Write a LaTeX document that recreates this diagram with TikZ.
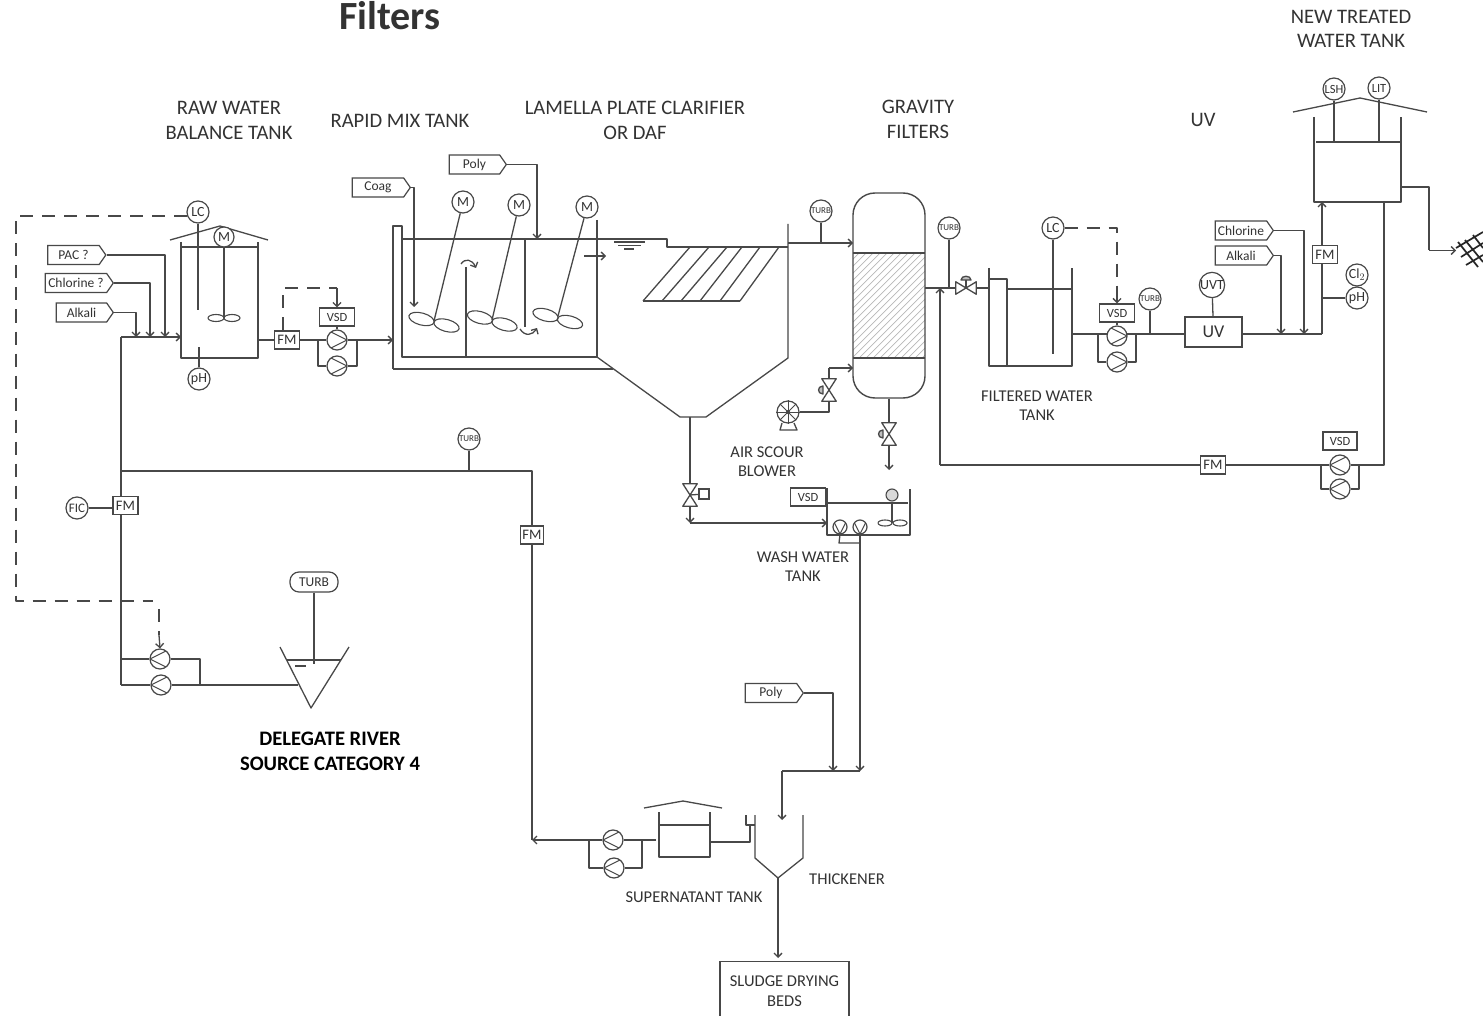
\documentclass[tikz,border=0pt]{standalone}
\usepackage{fontspec}
\setmainfont{Carlito}
\usetikzlibrary{arrows.meta,shapes.symbols,shapes.misc,shapes.geometric}
\definecolor{linec}{HTML}{484848}
\definecolor{txtc}{HTML}{333333}
\tikzset{
 pipe/.style={draw=linec,line width=1.3pt,line join=round},
 ctrl/.style={pipe,dash pattern=on 13pt off 9pt},
 lab/.style={font=\fontsize{20.6}{24.5}\selectfont,align=center,text=txtc,inner sep=0pt},
 labs/.style={font=\fontsize{16.5}{19.5}\selectfont,align=center,text=txtc,inner sep=0pt},
 labb/.style={font=\fontsize{20.6}{25}\selectfont\bfseries,align=center,text=black,inner sep=0pt},
 inst/.style={circle,draw=linec,line width=1.2pt,fill=white,minimum size=22pt,inner sep=0pt,text=txtc,font=\fontsize{14}{14}\selectfont},
 instt/.style={inst,font=\fontsize{9}{9}\selectfont},
 fmbox/.style={rectangle,draw=linec,line width=1.3pt,fill=white,minimum width=25pt,minimum height=18pt,inner sep=0pt,text=txtc,font=\fontsize{14.5}{15}\selectfont},
 vsdbox/.style={rectangle,draw=linec,line width=1.3pt,fill=white,minimum width=35pt,minimum height=18pt,inner sep=0pt,text=txtc,font=\fontsize{12.5}{13}\selectfont},
 tag/.style={shape=signal,signal to=east,signal from=nowhere,signal pointer angle=110,draw=linec,line width=1.2pt,fill=white,minimum width=#1,minimum height=19pt,inner sep=0pt,text=txtc,font=\fontsize{13.5}{14}\selectfont},
 pumpbase/.style={circle,draw=linec,line width=1.2pt,fill=white,minimum size=20pt,inner sep=0pt},
 pumpR/.style={pumpbase,path picture={\draw[pipe,line width=1pt] (path picture bounding box.north west)--(path picture bounding box.east)--(path picture bounding box.south west);}},
 pumpL/.style={pumpbase,path picture={\draw[pipe,line width=1pt] (path picture bounding box.north east)--(path picture bounding box.west)--(path picture bounding box.south east);}},
 pumpD/.style={pumpbase,minimum size=14pt,path picture={\draw[pipe,line width=1pt] (path picture bounding box.north west)--(path picture bounding box.south)--(path picture bounding box.north east);}},
 vvbox/.style={rectangle,minimum width=14pt,minimum height=22pt,inner sep=0pt},
 hvbox/.style={rectangle,minimum width=20pt,minimum height=12pt,inner sep=0pt},
}
\newcommand{\vvalve}[2]{\node[vvbox] (#1) at (#2) {};
 \draw[pipe] (#1.north west)--(#1.north east)--(#1.south west)--(#1.south east)--cycle;}
\newcommand{\impel}[3]{\draw[pipe,line width=1.1pt,rotate around={#3:(#1,#2)}] (#1,#2) ellipse [x radius=13,y radius=6];}
\begin{document}
\begin{tikzpicture}[x=1pt,y=-1pt,>={Straight Barb[length=4pt,width=8pt]}]
\useasboundingbox (0,0) rectangle (1483,1016);
\fill[white] (0,0) rectangle (1483,1016);
\clip (0,0) rectangle (1483,1016);

% ---- titles and labels
\node[inner sep=0pt,font=\fontsize{40}{42}\selectfont\bfseries,text=txtc] (tFilters) at (390,16) {Filters};
\node[lab] (tNew) at (1351,29) {NEW TREATED\\WATER TANK};
\node[lab] (tRaw) at (229,120.5) {RAW WATER\\BALANCE TANK};
\node[lab] (tRapid) at (400,120.5) {RAPID MIX TANK};
\node[lab] (tLam) at (635,120.5) {LAMELLA PLATE CLARIFIER\\OR DAF};
\node[lab] (tGrav) at (918,119.5) {GRAVITY\\FILTERS};
\node[lab] (tUV) at (1203,119.5) {UV};
\node[labb] (tRiver) at (330,751) {DELEGATE RIVER\\SOURCE CATEGORY 4};
\node[labs,font=\fontsize{16.5}{18.5}\selectfont] (tAir) at (767,461.5) {AIR SCOUR\\BLOWER};
\node[labs] (tFilt) at (1037,405.5) {FILTERED WATER\\TANK};
\node[labs] (tWash) at (803,566.5) {WASH WATER\\TANK};
\node[labs] (tSup) at (694,897.5) {SUPERNATANT TANK};
\node[labs] (tThick) at (847,879.5) {THICKENER};

% ---- raw water balance tank
\draw[pipe] (181,242)--(181,358)--(258,358)--(258,242);
\draw[pipe] (181,247)--(258,247);
\draw[pipe] (170,240)--(220,226)--(268,240);
\node[inst] (lcA) at (198,212) {LC};
\node[inst,minimum size=20pt] (mA) at (224,237) {M};
\node[inst] (phA) at (199,379) {pH};
\draw[pipe] (lcA)--(198,310);
\draw[pipe] (mA)--(224,318);
\draw[pipe,line width=1.1pt] (216,318) ellipse [x radius=8,y radius=3.5];
\draw[pipe,line width=1.1pt] (232,318) ellipse [x radius=8,y radius=3.5];
\draw[pipe] (phA)--(199,347);

% ---- chemical dosing on raw water
\coordinate (m0) at (121,337);
\coordinate (m1) at (121,471);
\coordinate (m2) at (121,659);
\coordinate (m3) at (121,685);
\coordinate (rawIn) at (181,337);
\draw[pipe] (m0)--(m3);
\draw[pipe,->] (m0)--(rawIn);
\node[tag=58pt] (pac) at (73.5,255) {PAC ?};
\node[tag=68pt] (chlA) at (76,283) {Chlorine ?};
\node[tag=57pt] (alkA) at (81.5,312.5) {Alkali};
\coordinate (dPac) at (165,337);
\coordinate (dChl) at (150,337);
\coordinate (dAlk) at (136,337);
\draw[pipe,->] (pac.east)-|(dPac);
\draw[pipe,->] (chlA.east)-|(dChl);
\draw[pipe,->] (alkA.east)-|(dAlk);

% ---- raw pumps
\node[fmbox] (fmB) at (287,340) {FM};
\node[pumpR] (pA) at (337,340) {};
\node[pumpR] (pB) at (337,366) {};
\node[vsdbox] (vsdA) at (337,317) {VSD};
\coordinate (rawOut) at (258,340);
\coordinate (rmIn) at (393,340);
\coordinate (byA) at (318,340);
\coordinate (byB) at (357,340);
\draw[pipe] (rawOut)--(fmB)--(pA);
\draw[pipe,->] (pA)--(rmIn);
\draw[pipe] (byA)|-(pB);
\draw[pipe] (pB)-|(byB);
\draw[pipe] (vsdA)--(pA);
\coordinate (dA) at (283,330);
\coordinate (dB) at (283,288);
\coordinate (dC) at (337,288);
\draw[ctrl] (dA)--(dB)--(dC);
\draw[pipe,->] (dC)--(vsdA.north);

% ---- rapid mix tank and clarifier
\draw[pipe] (393,369)--(393,226)--(402,226)--(402,357)--(597,357);
\draw[pipe,line width=1.7pt] (597,220)--(597,357);
\draw[pipe] (393,369)--(613,369);
\draw[pipe] (402,239)--(667,239)--(667,247)--(788,247);
\draw[pipe] (466,267)--(466,357);
\draw[pipe] (525,239)--(525,327);
\draw[pipe] (597,357)--(680,417)--(706,417)--(788,358)--(788,224);
\draw[pipe] (614,242)--(645,242);
\draw[pipe] (618,245.5)--(641,245.5);
\draw[pipe] (624,249)--(634,249);
\draw[pipe,->] (584,256)--(606,256);
\draw[pipe,->] (461,264) .. controls (465,258) and (472,259) .. (476,268);
\draw[pipe,->] (520,329) .. controls (525,337) and (533,335) .. (537,328);
\foreach \a/\b in {643/690,662/709,681/727,700/742,720/760,740/779}{\draw[pipe] (\a,301)--(\b,247);}
\draw[pipe] (643,301)--(740,301);
\node[inst] (mB) at (463,202) {M};
\node[inst] (mC) at (519,205) {M};
\node[inst] (mD) at (587,207) {M};
\draw[pipe] (mB)--(434,321);
\draw[pipe] (mC)--(492,320);
\draw[pipe] (mD)--(558,316);
\impel{421.5}{319}{-15}
\impel{446.5}{325.5}{-15}
\impel{480}{317.5}{-15}
\impel{504.5}{324.5}{-15}
\impel{545.5}{315}{-15}
\impel{570}{322}{-15}
\node[tag=58pt] (coag) at (378,187.5) {Coag};
\node[tag=57pt] (polyA) at (474.5,164.5) {Poly};
\coordinate (coagIn) at (414,307);
\coordinate (polyIn) at (537,239);
\draw[pipe,->] (coag.east)-|(coagIn);
\draw[pipe,->] (polyA.east)-|(polyIn);

% ---- gravity filter
\begin{scope}
\clip (853,253) rectangle (925,358);
\foreach \i in {740,747,...,930}{\draw[draw=black!28,line width=.7pt] (\i,358)--++(105,-105);}
\end{scope}
\node[rectangle,rounded corners=22pt,draw=linec,line width=1.4pt,minimum width=72pt,minimum height=205pt,inner sep=0pt] (filt) at (889,295.5) {};
\draw[pipe] (853,253)--(925,253);
\draw[pipe] (853,358)--(925,358);
\node[instt] (turbA) at (821,211) {TURB};
\coordinate (cOut) at (788,243);
\coordinate (fIn) at (853,243);
\coordinate (turbAj) at (821,243);
\draw[pipe,->] (cOut)--(fIn);
\draw[pipe] (turbA)--(turbAj);

% air scour
\node[circle,draw=linec,line width=1.2pt,fill=white,minimum size=22pt,inner sep=0pt] (blower) at (788,412) {};
\foreach \an in {0,45,...,315}{\draw[pipe,line width=.9pt] (blower.center)--(blower.\an);}
\fill[linec] (blower.center) circle (2pt);
\draw[pipe] (782,423)--(780,430)--(797,430)--(794,423);
\vvalve{vAir}{829,390}
\draw[pipe,fill=black!25] (823,386) .. controls (817,386) and (817,394) .. (823,394) -- cycle;
\coordinate (airA) at (829,412);
\coordinate (airB) at (829,368);
\coordinate (airC) at (853,368);
\draw[pipe] (blower)--(airA)--(vAir.south);
\draw[pipe] (vAir.north)--(airB);
\draw[pipe,->] (airB)--(airC);
% filter drain
\vvalve{vDrain}{889,434}
\draw[pipe,fill=black!25] (883,430) .. controls (877,430) and (877,438) .. (883,438) -- cycle;
\coordinate (drainEnd) at (889,470);
\draw[pipe] (filt.south)--(vDrain.north);
\draw[pipe,->] (vDrain.south)--(drainEnd);

% filter outlet
\node[hvbox] (vOut) at (966,288) {};
\draw[pipe] (vOut.north west)--(vOut.south west)--(vOut.north east)--(vOut.south east)--cycle;
\draw[pipe] (966,288)--(966,280);
\draw[pipe,fill=black!25] (961,280) .. controls (961,275) and (971,275) .. (971,280) -- cycle;
\coordinate (fOut) at (925,288);
\coordinate (turbBj) at (949,288);
\coordinate (ftIn) at (989,288);
\draw[pipe] (fOut)--(vOut.west);
\draw[pipe] (vOut.east)--(ftIn);
\node[instt] (turbB) at (949,228) {TURB};
\draw[pipe] (turbB)--(turbBj);

% ---- filtered water tank
\draw[pipe] (989,268)--(989,366)--(1072,366)--(1072,268);
\draw[pipe] (989,279)--(1007,279)--(1007,366);
\draw[pipe] (1007,289)--(1072,289);
\node[inst] (lcB) at (1053,228) {LC};
\draw[pipe] (lcB)--(1053,354);
\node[vsdbox] (vsdB) at (1117,313) {VSD};
\coordinate (ftOut) at (1072,334);
\coordinate (byC) at (1098,334);
\coordinate (byD) at (1136,334);
\coordinate (turbCj) at (1150,334);
\coordinate (uvIn) at (1185,334);
\coordinate (uvOut) at (1242,334);
\coordinate (dD) at (1117,228);
\coordinate (dE) at (1117,295);
\draw[pipe] (ftOut)--(uvIn);
\node[pumpR] (pC) at (1117,336) {};
\node[pumpR] (pD) at (1117,362) {};
\node[instt] (turbC) at (1150,299) {TURB};
\node[rectangle,draw=linec,line width=1.3pt,fill=white,minimum width=57pt,minimum height=30pt,inner sep=0pt,text=txtc,font=\fontsize{18}{19}\selectfont] (uv) at (1213.5,332) {UV};
\node[inst] (uvt) at (1212,285) {UVT};
\draw[pipe] (byC)|-(pD);
\draw[pipe] (pD)-|(byD);
\draw[pipe] (vsdB)--(pC);
\draw[pipe] (turbC)--(turbCj);
\draw[pipe] (uvt)--(uv);
\draw[ctrl] (lcB)--(dD)--(dE);
\draw[pipe,->] (dE)--(vsdB.north);

% ---- treated water tank
\draw[pipe] (1314,117)--(1314,202)--(1401,202)--(1401,117);
\draw[pipe] (1316,142)--(1400,142);
\draw[pipe] (1293,112)--(1360,98)--(1427,112);
\node[inst,font=\fontsize{12.5}{13}\selectfont] (lsh) at (1334,89) {LSH};
\node[inst,font=\fontsize{12.5}{13}\selectfont] (lit) at (1379,88) {LIT};
\coordinate (lshj) at (1334,142);
\coordinate (litj) at (1379,142);
\draw[pipe] (lsh)--(lshj);
\draw[pipe] (lit)--(litj);
\coordinate (up0) at (1322,334);
\coordinate (up1) at (1322,202);
\coordinate (phj) at (1322,298);
\draw[pipe] (uvOut)--(up0);
\draw[pipe,->] (up0)--(up1);
\node[fmbox] (fmC) at (1325,254.5) {FM};
\node[inst] (cl) at (1357,275) {Cl$_2$};
\node[inst] (phB) at (1357,298) {pH};
\draw[pipe] (phj)--(phB);
\node[tag=58pt] (chlB) at (1241,230.5) {Chlorine};
\node[tag=58pt] (alkB) at (1241,255.5) {Alkali};
\coordinate (dChlB) at (1304,334);
\coordinate (dAlkB) at (1281,334);
\draw[pipe,->] (chlB.east)-|(dChlB);
\draw[pipe,->] (alkB.east)-|(dAlkB);
% distribution
\coordinate (ttA) at (1400,187);
\coordinate (ttB) at (1429,187);
\coordinate (ttC) at (1429,250.5);
\coordinate (ttD) at (1456,250.5);
\draw[pipe] (ttA)--(ttB)--(ttC);
\draw[pipe,->] (ttC)--(ttD);
\draw[pipe,draw=black!85,line width=1.7pt] (1456,248)--(1483,232) (1461,257)--(1483,243) (1466,265)--(1483,255)
 (1458,242)--(1478,267) (1465,240)--(1483,262) (1473,235)--(1483,248);

% ---- backwash return
\coordinate (rtA) at (1384,202);
\coordinate (rtB) at (1384,465);
\coordinate (rtC) at (940,465);
\coordinate (rtD) at (940,288);
\coordinate (byE) at (1321,465);
\coordinate (byF) at (1359,465);
\node[fmbox] (fmD) at (1213,465) {FM};
\node[pumpL] (pE) at (1340,465) {};
\node[pumpL] (pF) at (1340,489) {};
\node[vsdbox,minimum width=34pt] (vsdC) at (1340,441) {VSD};
\draw[pipe] (rtA)--(rtB)--(pE)--(fmD)--(rtC);
\draw[pipe,->] (rtC)--(rtD);
\draw[pipe] (byF)|-(pF);
\draw[pipe] (pF)-|(byE);

% ---- sludge from clarifier and wash water tank
\coordinate (hop) at (690,417);
\vvalve{vHop}{690,495}
\node[rectangle,draw=linec,line width=1.2pt,minimum size=10pt,inner sep=0pt] (act) at (704,494) {};
\draw[pipe] (690,495)--(act);
\coordinate (hopB) at (690,523);
\coordinate (wtIn) at (827,523);
\draw[pipe] (hop)--(vHop.north);
\draw[pipe,->] (vHop.south)--(hopB);
\draw[pipe,->] (hopB)--(wtIn);
\draw[pipe] (827,488)--(827,535)--(910,535)--(910,489);
\draw[pipe] (827,503)--(908,503);
\node[vsdbox] (vsdD) at (808,497) {VSD};
\node[circle,draw=linec,line width=1.1pt,fill=black!15,minimum size=12pt,inner sep=0pt] (mE) at (892,495) {};
\draw[pipe] (mE)--(892,523);
\draw[pipe,line width=1.1pt] (885,523) ellipse [x radius=7,y radius=3];
\draw[pipe,line width=1.1pt] (900,523) ellipse [x radius=7,y radius=3];
\coordinate (wA) at (839,543);
\coordinate (wB) at (860,543);
\coordinate (wC) at (860,771);
\coordinate (wD) at (782,771);
\coordinate (wE) at (782,820);
\node[pumpD] (pG) at (840,527) {};
\node[pumpD] (pH) at (860,527) {};
\draw[pipe] (pG.south)--(wA)--(wB);
\draw[pipe,->] (pH.south)--(wC);
\draw[pipe] (wC)--(wD);
\draw[pipe,->] (wD)--(wE);
\node[tag=58pt] (polyB) at (771,693) {Poly};
\coordinate (polyOut) at (833,771);
\draw[pipe,->] (polyB.east)-|(polyOut);

% ---- thickener and supernatant
\draw[pipe] (755,815)--(755,858)--(778,878)--(803,858)--(803,815);
\draw[pipe] (746,815)--(746,825)--(755,825);
\draw[pipe] (710,812)--(710,857)--(659,857)--(659,812);
\draw[pipe] (659,825)--(710,825);
\draw[pipe] (644,808)--(683,801)--(722,808);
\coordinate (stA) at (710,842);
\coordinate (stB) at (750,842);
\coordinate (stC) at (750,825);
\draw[pipe] (stA)--(stB)--(stC);
\node[pumpL] (pI) at (613,840) {};
\node[pumpL] (pJ) at (614,868) {};
\coordinate (sOut) at (656,840);
\coordinate (byG) at (642,840);
\coordinate (byH) at (589,840);
\coordinate (rcA) at (532,840);
\coordinate (rcB) at (532,471);
\draw[pipe] (sOut)--(pI);
\draw[pipe] (byG)|-(pJ);
\draw[pipe] (pJ)-|(byH);
\node[fmbox,minimum width=23pt] (fmE) at (532,535) {FM};
\draw[pipe] (m1)--(rcB)--(fmE);
\draw[pipe] (fmE)--(rcA|-pI.west);
\draw[pipe,->] (pI)--(rcA);
\node[instt] (turbD) at (469,439) {TURB};
\coordinate (turbDj) at (469,471);
\draw[pipe] (turbD)--(turbDj);
\coordinate (thApex) at (778,878);
\node[rectangle,anchor=north,draw=linec,line width=1.3pt,minimum width=129pt,minimum height=80pt,inner sep=0pt] (sludge) at (784.5,961) {};
\node[labs] (tSludge) at (784.5,991) {SLUDGE DRYING\\BEDS};
\coordinate (slIn) at (778,958);
\draw[pipe,->] (thApex)--(slIn);

% ---- intake
\node[fmbox] (fmA) at (125.5,505.5) {FM};
\node[inst,font=\fontsize{13}{13}\selectfont] (fic) at (77,508) {FIC};
\draw[pipe] (fic)--(fic-|fmA.west);
\node[pumpL] (pK) at (160,659) {};
\node[pumpL] (pL) at (161,685) {};
\coordinate (rvA) at (200,659);
\coordinate (rvB) at (200,685);
\coordinate (rvC) at (298,685);
\coordinate (ctA) at (186.5,216);
\coordinate (ctB) at (16,216);
\coordinate (ctC) at (16,601);
\coordinate (ctD) at (153,601);
\coordinate (ctE) at (159,609);
\coordinate (ctF) at (159,635);
\draw[pipe] (m2)--(pK)--(rvA)--(rvB);
\draw[pipe] (m3)--(pL)--(rvC);
\draw[ctrl] (ctA)--(ctB)--(ctC)--(ctD);
\draw[ctrl] (ctE)--(ctF);
\draw[pipe,->] (ctF)--(pK.north);
\draw[pipe] (280,647)--(311,708)--(349,647);
\draw[pipe] (287,660)--(341,660);
\draw[pipe] (295,666)--(306,666);
\node[rectangle,rounded corners=9pt,draw=linec,line width=1.2pt,minimum width=48pt,minimum height=20pt,inner sep=0pt,text=txtc,font=\fontsize{13.5}{14}\selectfont] (turbE) at (314,582) {TURB};
\coordinate (turbEj) at (314,664);
\draw[pipe] (turbE)--(turbEj);
\end{tikzpicture}
\end{document}
